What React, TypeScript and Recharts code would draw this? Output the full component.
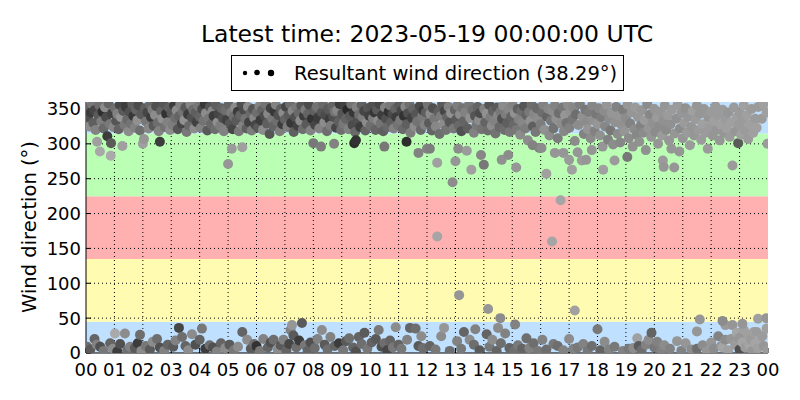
import React from "react";
import {
  ScatterChart,
  Scatter,
  XAxis,
  YAxis,
  ReferenceArea,
  ReferenceLine,
} from "recharts";

// [hour, direction (deg), grey level]
const upperBand: [number, number, number][] = [
  [0.03,350,100],[0.08,336,80],[0.12,325,140],[0.17,345,60],[0.21,357,120],[0.26,330,95],[0.3,348,70],[0.34,320,130],[0.39,303,160],[0.43,341,90],[0.47,355,110],[0.49,289,168],[0.54,332,125],[0.58,346,45],[0.62,322,105],[0.67,352,140],[0.71,338,75],[0.75,311,60],[0.79,358,100],[0.83,328,120],[0.87,283,170],[0.88,301,90],[0.92,344,65],[0.97,324,135],
  [1.02,351,110],[1.06,333,85],[1.1,343,130],[1.15,321,100],[1.19,356,70],[1.23,338,150],[1.28,297,160],[1.31,347,90],[1.36,327,120],[1.4,353,60],[1.45,335,105],[1.5,318,140],[1.54,346,80],[1.58,329,115],[1.63,357,95],[1.67,340,55],[1.72,323,130],[1.76,349,100],[1.81,334,145],[1.85,355,75],[1.9,319,110],[1.95,342,90],
  [2.0,300,160],[2.04,307,150],[2.07,351,95],[2.11,332,120],[2.16,345,70],[2.2,322,135],[2.25,356,105],[2.29,338,60],[2.34,349,125],[2.38,326,90],[2.43,341,140],[2.47,354,80],[2.52,330,110],[2.56,318,130],[2.6,303,60],[2.64,347,100],[2.69,336,145],[2.73,358,85],[2.78,324,115],[2.82,343,50],[2.87,331,130],[2.91,352,95],[2.96,320,140],
  [3.01,344,90],[3.05,327,125],[3.1,355,60],[3.14,337,110],[3.19,348,140],[3.23,321,85],[3.28,340,100],[3.32,357,130],[3.37,329,70],[3.41,346,115],[3.46,334,145],[3.5,352,90],[3.54,317,120],[3.59,342,60],[3.63,326,105],[3.68,356,135],[3.72,338,80],[3.77,349,110],[3.81,322,140],[3.86,345,95],[3.9,331,65],[3.95,354,120],
  [4.0,339,100],[4.04,323,130],[4.09,350,75],[4.13,333,115],[4.18,357,55],[4.22,344,140],[4.27,319,90],[4.31,336,120],[4.36,353,85],[4.4,328,105],[4.45,347,135],[4.49,340,60],[4.54,321,110],[4.58,355,95],[4.63,331,145],[4.67,343,70],[4.72,326,125],[4.76,351,100],[4.81,337,80],[4.85,318,130],[4.9,348,110],[4.95,334,65],
  [5.0,271,150],[5.02,356,100],[5.06,329,85],[5.11,345,125],[5.13,293,155],[5.16,321,70],[5.2,339,110],[5.25,352,140],[5.29,333,90],[5.34,346,60],[5.38,318,120],[5.43,341,100],[5.47,357,80],[5.5,295,160],[5.52,326,130],[5.56,349,75],[5.61,336,115],[5.65,322,95],[5.7,353,140],[5.74,331,65],[5.79,344,105],[5.83,319,125],[5.88,350,85],[5.92,337,135],[5.97,327,70],
  [6.01,345,110],[6.05,323,90],[6.1,354,130],[6.14,334,60],[6.19,348,100],[6.23,320,140],[6.28,340,75],[6.32,357,115],[6.37,329,95],[6.41,343,135],[6.46,314,85],[6.5,351,65],[6.55,336,120],[6.59,325,100],[6.64,346,55],[6.68,356,130],[6.73,332,110],[6.77,341,80],[6.82,318,125],[6.86,350,95],[6.91,328,60],[6.95,344,140],
  [7.0,335,100],[7.04,353,70],[7.09,324,125],[7.13,341,90],[7.18,357,110],[7.22,330,55],[7.27,347,135],[7.31,317,95],[7.36,338,80],[7.4,352,120],[7.45,326,65],[7.49,344,105],[7.54,333,140],[7.58,355,85],[7.63,321,110],[7.67,340,60],[7.72,349,125],[7.76,328,90],[7.81,343,100],[7.85,356,75],[7.9,319,130],[7.95,336,50],
  [8.0,301,120],[8.03,347,95],[8.07,327,70],[8.12,353,115],[8.16,337,60],[8.21,322,130],[8.27,296,125],[8.3,345,85],[8.34,357,105],[8.39,331,140],[8.43,341,75],[8.48,318,110],[8.52,350,90],[8.57,335,60],[8.61,326,125],[8.66,354,100],[8.7,339,80],[8.73,300,130],[8.75,346,115],[8.8,323,70],[8.84,348,135],[8.89,332,95],[8.93,357,60],[8.98,320,110],
  [9.02,343,85],[9.06,329,120],[9.11,355,65],[9.15,336,100],[9.2,349,40],[9.24,321,130],[9.29,340,90],[9.33,357,115],[9.38,327,75],[9.42,345,55],[9.44,301,45],[9.47,317,105],[9.5,305,50],[9.52,352,130],[9.56,334,80],[9.61,342,110],[9.65,324,60],[9.7,356,95],[9.74,338,125],[9.79,347,70],[9.83,319,100],[9.88,331,140],[9.92,351,85],[9.97,340,65],
  [10.01,326,110],[10.06,354,80],[10.1,337,125],[10.15,345,55],[10.19,320,100],[10.24,349,90],[10.28,333,140],[10.33,357,70],[10.37,329,115],[10.42,341,60],[10.46,318,95],[10.5,296,120],[10.52,352,130],[10.56,336,80],[10.61,324,105],[10.65,346,50],[10.7,355,120],[10.74,331,95],[10.79,343,75],[10.83,322,130],[10.88,350,100],[10.92,338,60],[10.97,327,115],
  [11.01,356,90],[11.06,334,120],[11.1,347,70],[11.15,321,105],[11.19,340,50],[11.24,353,135],[11.28,303,45],[11.29,328,95],[11.33,344,80],[11.38,357,110],[11.42,316,125],[11.47,337,65],[11.51,350,100],[11.56,325,140],[11.6,342,85],[11.65,332,115],[11.7,287,130],[11.74,354,75],[11.78,320,105],[11.83,339,120],[11.87,348,60],[11.92,327,130],[11.96,345,95],
  [12.0,293,130],[12.03,356,115],[12.07,330,90],[12.1,293,125],[12.12,343,140],[12.17,319,100],[12.21,351,80],[12.26,336,120],[12.31,325,135],[12.36,273,160],[12.4,346,95],[12.44,314,110],[12.49,340,125],[12.53,357,90],[12.58,328,140],[12.62,347,70],[12.67,320,115],[12.71,338,100],[12.76,353,130],[12.8,331,85],[12.85,344,145],[12.9,245,140],[12.93,322,120],[12.98,349,100],
  [13.0,275,150],[13.03,335,90],[13.07,355,125],[13.1,293,140],[13.12,326,105],[13.16,342,140],[13.21,318,80],[13.25,351,115],[13.3,333,100],[13.34,345,130],[13.4,290,155],[13.43,322,95],[13.48,356,120],[13.52,337,145],[13.56,263,160],[13.6,348,110],[13.65,316,130],[13.69,340,85],[13.74,327,120],[13.78,353,100],[13.83,334,140],[13.87,344,75],[13.9,284,135],[13.92,321,115],
  [14.0,270,120],[14.01,350,130],[14.05,331,100],[14.1,343,145],[14.14,319,110],[14.19,356,85],[14.23,338,125],[14.28,326,140],[14.32,347,100],[14.37,333,130],[14.41,315,115],[14.46,352,90],[14.5,341,135],[14.55,324,105],[14.59,346,120],[14.63,277,145],[14.64,336,80],[14.68,355,140],[14.73,320,110],[14.77,342,125],[14.82,330,95],[14.86,284,140],[14.87,349,135],[14.91,317,120],[14.96,339,100],
  [15.0,357,130],[15.05,327,105],[15.09,344,145],[15.14,266,150],[15.15,320,120],[15.19,350,95],[15.23,335,130],[15.28,313,140],[15.32,347,110],[15.37,330,135],[15.41,354,85],[15.46,322,125],[15.5,341,100],[15.55,305,140],[15.59,346,120],[15.64,333,145],[15.68,356,110],[15.72,298,130],[15.73,325,95],[15.77,343,135],[15.82,317,120],[15.86,351,105],[15.91,336,140],[15.95,294,130],
  [16.0,328,125],[16.03,294,140],[16.05,345,110],[16.09,356,130],[16.14,320,145],[16.2,257,160],[16.22,339,100],[16.27,350,135],[16.31,312,140],[16.36,333,120],[16.41,347,140],[16.45,322,115],[16.5,287,150],[16.5,355,130],[16.55,336,145],[16.6,308,125],[16.64,344,110],[16.72,329,140],[16.77,352,120],[16.8,287,150],[16.82,318,135],[16.86,341,150],[16.91,330,115],[16.96,356,140],
  [17.0,277,155],[17.01,323,130],[17.05,346,145],[17.1,263,160],[17.11,335,120],[17.15,352,135],[17.2,304,140],[17.24,342,110],[17.3,288,150],[17.33,327,140],[17.38,357,125],[17.45,276,155],[17.47,339,145],[17.52,314,130],[17.57,349,120],[17.6,277,150],[17.62,331,140],[17.66,321,150],[17.71,345,125],[17.76,308,140],[17.8,291,150],[17.81,355,135],[17.85,334,145],[17.9,318,130],[17.95,343,120],
  [18.0,328,150],[18.04,351,135],[18.09,312,145],[18.14,338,125],[18.18,296,150],[18.2,263,160],[18.23,347,140],[18.27,325,135],[18.32,356,150],[18.37,306,130],[18.41,336,140],[18.46,319,120],[18.5,344,150],[18.55,299,140],[18.6,276,155],[18.62,331,145],[18.66,353,130],[18.71,314,140],[18.76,340,150],[18.8,302,135],[18.85,327,145],[18.9,349,125],[18.95,318,150],
  [19.0,337,140],[19.05,281,120],[19.06,356,150],[19.1,308,140],[19.15,329,130],[19.2,345,150],[19.24,296,145],[19.29,321,140],[19.33,352,155],[19.38,313,135],[19.43,338,150],[19.47,303,145],[19.52,326,130],[19.56,348,150],[19.61,316,140],[19.66,334,155],[19.7,291,145],[19.75,357,140],[19.8,322,150],[19.84,342,135],[19.89,310,150],[19.94,330,145],
  [20.0,350,150],[20.04,317,140],[20.09,338,155],[20.13,300,150],[20.18,325,140],[20.23,346,150],[20.27,312,155],[20.3,276,155],[20.32,333,145],[20.33,267,150],[20.37,355,150],[20.42,320,140],[20.47,341,155],[20.52,305,150],[20.57,328,145],[20.6,293,150],[20.62,349,155],[20.7,266,150],[20.72,315,150],[20.77,336,145],[20.82,356,155],[20.88,289,150],[20.9,322,140],[20.95,344,150],
  [21.0,308,150],[21.05,330,155],[21.1,351,145],[21.15,316,155],[21.2,339,150],[21.25,298,155],[21.3,324,150],[21.35,347,160],[21.4,312,150],[21.45,335,155],[21.5,355,150],[21.55,320,155],[21.6,343,150],[21.65,306,155],[21.7,328,160],[21.75,350,150],[21.8,316,155],[21.88,293,155],[21.9,338,150],[21.95,324,155],
  [22.0,346,155],[22.05,312,150],[22.1,333,160],[22.15,354,155],[22.2,320,150],[22.25,341,155],[22.3,305,150],[22.35,327,160],[22.4,349,155],[22.45,316,150],[22.5,336,155],[22.55,322,160],[22.6,345,150],[22.65,310,155],[22.7,331,160],[22.75,269,155],[22.8,352,155],[22.85,318,150],[22.9,338,160],[22.95,301,90],[22.97,327,155],
  [23.0,344,155],[23.05,313,160],[23.1,334,155],[23.15,355,160],[23.2,320,155],[23.25,341,160],[23.3,307,155],[23.35,328,160],[23.42,350,155],[23.48,316,160],[23.55,336,155],[23.6,323,160],[23.66,353,155],[23.78,336,155],[23.84,357,160],[23.95,345,160],[23.98,300,155],
];

const lowerBand: [number, number, number][] = [
  [0.04,9,110],[0.15,5,90],[0.3,20,100],[0.38,12,130],[0.5,9,80],[0.62,3,120],[0.85,14,100],[0.95,6,140],[1.02,28,170],[1.1,2,60],[1.2,13,80],[1.37,28,140],[1.45,4,110],[1.55,9,130],[1.72,7,90],[1.82,14,60],[1.9,26,110],[1.95,3,140],
  [2.1,10,120],[2.25,5,90],[2.35,16,140],[2.5,20,110],[2.6,8,80],[2.75,3,130],[2.88,12,100],[3.07,9,90],[3.15,18,130],[3.27,36,70],[3.38,23,110],[3.5,10,100],[3.6,4,140],[3.73,27,140],[3.85,12,80],[4.0,19,100],[4.08,35,120],[4.2,6,60],[4.35,11,110],[4.47,8,80],[4.6,2,130],[4.75,14,100],[4.9,7,140],
  [5.05,12,90],[5.2,4,120],[5.35,9,140],[5.5,30,100],[5.67,19,140],[5.8,6,90],[5.92,13,110],[6.0,10,50],[6.12,3,120],[6.24,20,130],[6.4,8,100],[6.5,15,80],[6.6,19,110],[6.75,5,140],[6.85,11,90],[6.95,19,130],[7.05,4,100],[7.15,13,70],[7.2,33,130],[7.25,40,150],[7.3,25,90],[7.4,8,110],[7.5,18,60],[7.6,43,90],[7.7,11,120],[7.8,3,100],[7.9,15,80],
  [8.05,7,110],[8.15,20,130],[8.3,33,140],[8.4,12,90],[8.5,5,110],[8.6,23,130],[8.75,10,100],[8.9,14,60],[9.05,4,120],[9.15,17,90],[9.26,21,110],[9.4,8,100],[9.5,2,80],[9.6,23,100],[9.7,13,110],[9.8,29,90],[9.9,6,120],[10.05,15,100],[10.2,20,90],[10.3,33,120],[10.4,9,80],[10.5,14,110],[10.6,4,70],[10.7,18,100],[10.8,8,120],[10.9,37,140],[11.0,12,100],[11.1,6,120],[11.3,19,130],[11.4,36,100],[11.6,35,110],[11.7,10,90],[11.8,24,140],[11.85,7,110],
  [12.1,10,100],[12.3,5,120],[12.5,24,140],[12.6,36,150],[12.8,3,110],[13.06,17,130],[13.2,6,120],[13.3,30,100],[13.5,19,140],[13.65,12,110],[13.7,34,130],[13.85,4,90],[14.1,27,100],[14.2,9,120],[14.3,19,140],[14.45,3,100],[14.5,36,140],[14.6,14,110],[14.75,28,130],[14.9,7,100],[15.05,2,110],[15.2,11,120],[15.35,6,100],[15.5,21,110],[15.6,7,130],[15.75,14,110],[15.9,3,120],
  [16.06,19,130],[16.2,5,110],[16.45,13,120],[16.6,10,110],[16.8,4,130],[17.0,20,140],[17.15,6,130],[17.3,8,120],[17.5,13,130],[17.65,3,120],[17.8,10,110],[18.0,34,120],[18.1,4,100],[18.25,16,140],[18.4,5,130],[18.6,9,120],[18.9,3,130],[19.1,6,120],[19.26,7,140],[19.4,21,160],[19.45,10,90],[19.55,4,110],[19.7,12,130],[19.8,19,140],[19.9,29,100],[20.0,8,120],[20.1,16,130],[20.25,4,130],[20.35,11,140],[20.55,6,130],[20.8,17,150],[20.95,3,130],[21.1,14,150],[21.3,5,140],[21.5,6,110],[21.5,31,150],[21.7,11,140],[21.85,3,150],
  [22.0,15,150],[22.1,6,140],[22.25,24,130],[22.35,10,150],[22.4,8,165],[22.5,19,140],[22.5,40,155],[22.6,4,160],[22.7,20,150],[22.75,40,150],[22.85,12,155],[22.9,29,165],[23.0,22,150],[23.0,5,80],[23.1,15,165],[23.15,33,160],[23.2,8,155],[23.3,26,160],[23.35,11,165],[23.4,19,155],[23.45,3,150],[23.5,30,160],[23.55,14,165],[23.6,30,155],[23.65,7,160],[23.7,19,165],[23.8,24,155],[23.85,10,150],[23.95,35,160],[23.98,4,155],
];

const strayPoints: [number, number, number][] = [
  [12.36,167,165],[13.13,83,150],[14.15,63,150],[14.58,50,140],[15.1,41,130],[16.4,160,165],[16.7,219,165],[17.2,61,160],[21.6,48,150],[22.4,46,140],[23.1,42,150],[23.65,49,160],[23.94,50,150],
];

const hourTicks = [0,1,2,3,4,5,6,7,8,9,10,11,12,13,14,15,16,17,18,19,20,21,22,23,24];
const dirTicks = [0,50,100,150,200,250,300,350];
const bands = [
  { y1: 0, y2: 45, fill: "#bfe0ff" },
  { y1: 45, y2: 135, fill: "#fffbb0" },
  { y1: 135, y2: 225, fill: "#ffb0b0" },
  { y1: 225, y2: 315, fill: "#bbffb4" },
  { y1: 315, y2: 360, fill: "#bfe0ff" },
];

const points = [...upperBand, ...lowerBand, ...strayPoints].map(([x, y, g]) => ({
  x,
  y,
  fill: `rgb(${g},${g},${g})`,
}));

const font = "DejaVu Sans, sans-serif";
const tickStyle = { fill: "#000", fontSize: 18, fontFamily: font };

const Dot = (props: any) => (
  <circle cx={props.cx} cy={props.cy} r={5} fill={props.payload.fill} />
);

export default function App() {
  return (
    <div style={{ position: "relative", width: 784, height: 384 }}>
      <ScatterChart
        width={784}
        height={384}
        margin={{ top: 94, right: 24, bottom: 0, left: 0 }}
      >
        {bands.map((b, i) => (
          <ReferenceArea key={i} y1={b.y1} y2={b.y2} fill={b.fill} fillOpacity={1} stroke="none" />
        ))}
        {hourTicks.slice(1, -1).map((h) => (
          <ReferenceLine key={"x" + h} x={h} stroke="#000" strokeDasharray="1 3" />
        ))}
        {dirTicks.slice(1).map((d) => (
          <ReferenceLine key={"y" + d} y={d} stroke="#000" strokeDasharray="1 3" />
        ))}
        <XAxis
          type="number"
          dataKey="x"
          domain={[0, 24]}
          ticks={hourTicks}
          interval={0}
          allowDataOverflow
          height={39}
          stroke="#000"
          tickSize={-5}
          tickMargin={15}
          tick={tickStyle}
          tickFormatter={(h: number) => String(h % 24).padStart(2, "0")}
        />
        <XAxis
          xAxisId="top"
          orientation="top"
          type="number"
          domain={[0, 24]}
          ticks={hourTicks}
          interval={0}
          allowDataOverflow
          height={0}
          stroke="#000"
          tickSize={-5}
          tickFormatter={() => ""}
        />
        <YAxis
          type="number"
          dataKey="y"
          domain={[0, 360]}
          ticks={dirTicks}
          interval={0}
          allowDataOverflow
          width={78}
          stroke="#000"
          tickSize={-5}
          tickMargin={10}
          tick={tickStyle}
        />
        <YAxis
          yAxisId="right"
          orientation="right"
          type="number"
          domain={[0, 360]}
          ticks={dirTicks}
          interval={0}
          allowDataOverflow
          width={0}
          stroke="#000"
          tickSize={-5}
          tickFormatter={() => ""}
        />
        <Scatter data={points} shape={Dot} isAnimationActive={false} />
      </ScatterChart>
      <svg
        width={784}
        height={384}
        style={{ position: "absolute", left: 0, top: 0, pointerEvents: "none" }}
      >
        <text x={419} y={34} textAnchor="middle" fontFamily={font} fontSize={23.5} fill="#000">
          Latest time: 2023-05-19 00:00:00 UTC
        </text>
        <rect x={223.5} y={47.5} width={392} height={35} fill="#fff" stroke="#000" />
        <circle cx={237} cy={65} r={2.2} fill="#000" />
        <circle cx={249} cy={64.5} r={2.8} fill="#000" />
        <circle cx={263} cy={65} r={3.2} fill="#000" />
        <text x={286} y={71.5} fontFamily={font} fontSize={19.5} fill="#000">
          Resultant wind direction (38.29°)
        </text>
        <text
          x={28}
          y={219}
          transform="rotate(-90 28 219)"
          textAnchor="middle"
          fontFamily={font}
          fontSize={19.5}
          fill="#000"
        >
          Wind direction (°)
        </text>
      </svg>
    </div>
  );
}
